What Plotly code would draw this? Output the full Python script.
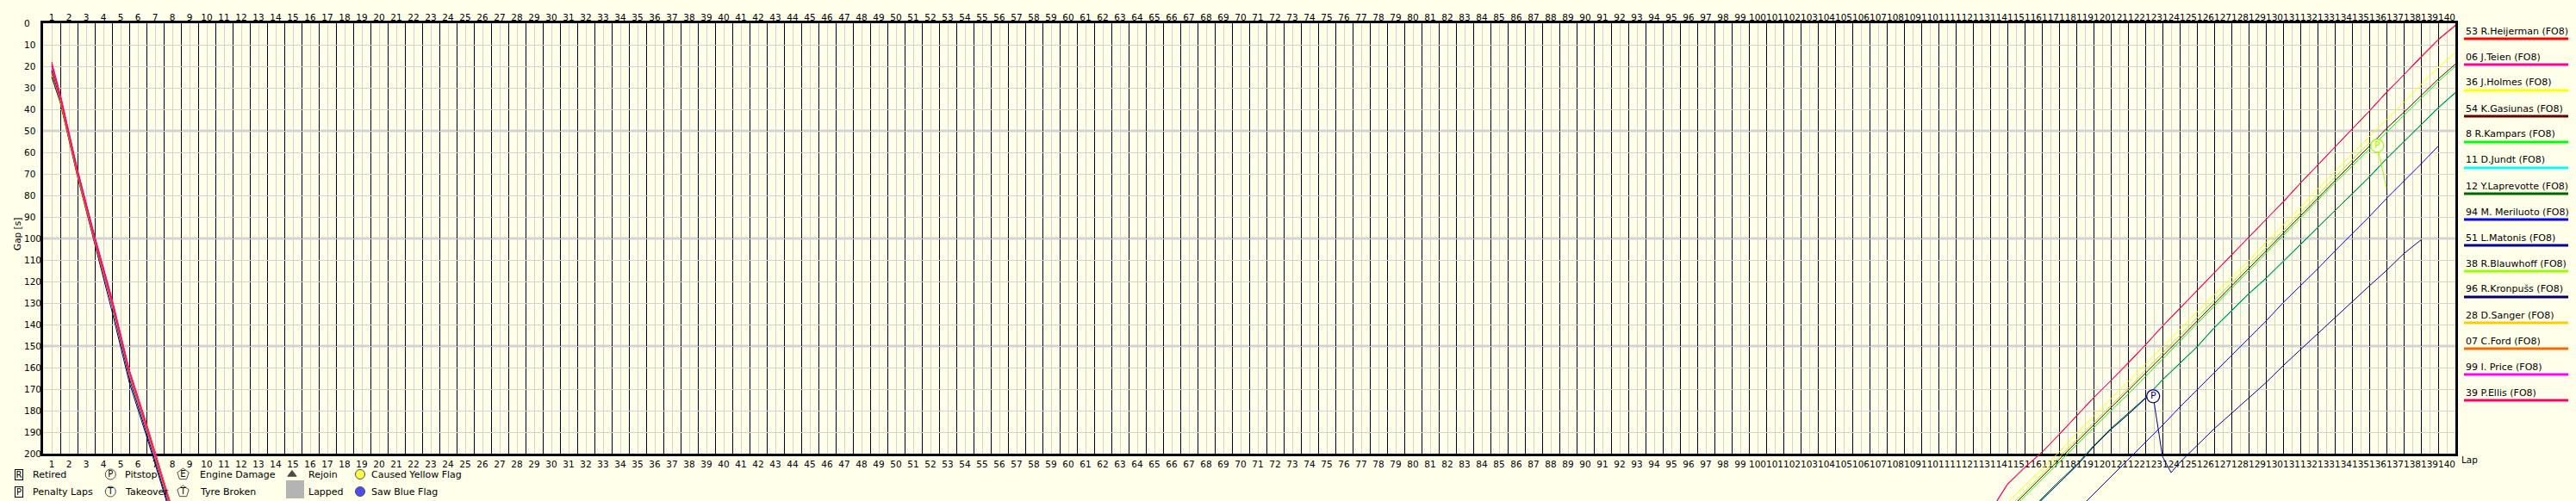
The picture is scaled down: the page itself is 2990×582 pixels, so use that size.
import plotly.graph_objects as go

W, H = 2990, 582
BG = '#FFFFEA'
FONT = 'DejaVu Sans'

# ---------------- data ----------------
LAPS = list(range(1, 141))
GAP_TICKS = list(range(0, 201, 10))

DRIVERS = ['53 R.Heijerman (FO8)', '06 J.Teien (FO8)', '36 J.Holmes (FO8)',
           '54 K.Gasiunas (FO8)', '8 R.Kampars (FO8)', '11 D.Jundt (FO8)',
           '12 Y.Laprevotte (FO8)', '94 M. Meriluoto (FO8)', '51 L.Matonis (FO8)',
           '38 R.Blauwhoff (FO8)', '96 R.Kronpušs (FO8)', '28 D.Sanger (FO8)',
           '07 C.Ford (FO8)', '99 I. Price (FO8)', '39 P.Ellis (FO8)']
COLORS = ['#FF0000', '#FF0099', '#FFFF00', '#660000', '#00FF00', '#00FFFF',
          '#006600', '#0000FF', '#000099', '#99FF00', '#000066', '#FFCC00',
          '#FF6600', '#FF00FF', '#FF0066']

# opening laps (lap index, gap in s)
LEFT_LAPS = [0.5, 1, 2, 3, 4, 5, 6, 7, 8]
left_53 = [18.0, 33.0, 68.0, 99.0, 128.0, 161.0, 186.0, 212.0, 239.0]
left_06 = [19.0, 33.5, 68.5, 99.5, 128.5, 161.5, 186.5, 212.5, 239.5]
left_36 = [21.0, 35.0, 69.5, 100.5, 129.5, 162.0, 187.5, 213.5, 240.0]
left_54 = [22.0, 35.5, 70.0, 101.0, 130.0, 162.5, 188.0, 214.0, 241.0]
left_08 = [23.0, 36.0, 70.0, 101.0, 130.5, 163.0, 188.5, 214.5, 241.0]
left_11 = [24.0, 36.5, 70.5, 101.5, 131.0, 163.5, 189.0, 215.0, 242.0]
left_12 = [23.5, 36.0, 70.0, 101.0, 130.5, 163.0, 188.5, 214.5, 241.5]
left_94 = [21.5, 35.0, 69.0, 100.0, 129.5, 162.5, 188.0, 214.0, 241.0]
left_51 = [22.5, 35.5, 70.0, 101.5, 131.5, 165.0, 190.5, 216.0, 243.0]
left_38 = [24.5, 37.0, 71.0, 101.0, 130.0, 162.0, 187.0, 213.0, 240.0]
left_96 = [25.0, 37.0, 71.5, 103.0, 134.0, 167.0, 192.0, 218.0, 245.0]
left_28 = [20.5, 34.5, 69.5, 100.5, 129.5, 162.5, 188.0, 214.0, 241.0]
left_07 = [23.0, 36.5, 71.0, 102.0, 131.0, 163.5, 189.0, 215.0, 242.0]
left_99 = [19.5, 34.0, 69.0, 100.0, 129.0, 161.5, 187.0, 213.0, 240.0]
left_39 = [20.0, 34.0, 69.0, 100.5, 129.5, 162.0, 187.5, 213.5, 240.5]

# closing laps
end_laps_53 = list(range(113, 141))
end_53 = [227.3, 214.6, 206.8, 199.6, 191.4, 182.8, 174.3, 166.3, 158.3, 149.8, 141.0, 132.8,
          124.6, 116.2, 108.3, 99.7, 91.4, 83.3, 74.5, 66.2, 58.0, 49.6, 41.0, 32.3, 24.2,
          15.8, 7.8, 1.2]
end_laps_06 = list(range(113, 141))
end_06 = [227.0, 214.3, 206.5, 199.5, 191.2, 182.5, 174.1, 166.2, 158.0, 149.6, 140.8, 132.6,
          124.3, 116.0, 108.0, 99.5, 91.2, 83.0, 74.3, 66.0, 57.8, 49.3, 40.8, 32.0, 24.0,
          15.5, 7.5, 0.8]
end_laps_36 = list(range(113, 141))
end_36 = [231.0, 223.0, 215.0, 207.5, 199.5, 190.8, 182.8, 174.8, 166.7, 158.6, 150.7, 142.6,
          134.3, 126.5, 118.6, 110.5, 102.0, 94.0, 85.8, 77.0, 69.3, 60.8, 53.0, 45.0, 37.0,
          28.6, 20.8, 13.6]
end_laps_54 = list(range(114, 141))
end_54 = [227.0, 219.0, 211.0, 203.0, 195.0, 187.0, 179.0, 171.2, 163.2, 155.0, 146.8, 138.6,
          130.4, 122.4, 114.2, 106.0, 97.8, 89.6, 81.3, 73.2, 65.2, 57.3, 49.0, 41.5, 33.8,
          26.0, 19.0]
end_laps_08 = list(range(114, 141))
end_08 = [228.0, 220.0, 212.0, 204.0, 196.0, 188.2, 180.3, 172.5, 164.5, 156.3, 148.0, 139.8,
          131.6, 123.5, 115.3, 107.2, 99.0, 90.8, 82.6, 74.3, 66.5, 58.6, 50.5, 43.0, 35.0,
          27.2, 20.0]
end_laps_11 = list(range(115, 141))
end_11 = [229.5, 221.5, 213.5, 205.8, 197.0, 189.0, 182.0, 174.6, 166.2, 158.4, 150.8, 142.0,
          134.0, 126.2, 119.0, 111.2, 103.3, 95.3, 87.3, 79.6, 71.8, 63.3, 55.3, 47.5, 39.6,
          32.6]
end_laps_12 = list(range(115, 141))
end_12 = [229.0, 221.0, 213.0, 205.5, 196.5, 188.5, 181.5, 174.3, 165.8, 158.0, 150.5, 141.6,
          133.6, 125.8, 118.6, 110.8, 103.0, 95.0, 87.0, 79.3, 71.5, 63.0, 55.0, 47.2, 39.3,
          32.2]
end_laps_94 = list(range(118, 140))
end_94 = [227.0, 219.0, 211.2, 203.0, 195.0, 187.0, 178.6, 170.6, 162.7, 154.3, 146.5, 138.6,
          130.0, 122.2, 114.3, 106.0, 98.0, 90.0, 81.5, 73.6, 65.5, 57.2]
end_laps_51 = [115, 116, 117, 118, 119, 120, 121, 122, 122.46, 123, 123.5, 124] + list(range(125, 139))
end_51 = [229.5, 221.5, 213.8, 206.0, 197.0, 189.0, 182.0, 174.6, 173.5, 201.5, 209.0, 204.3,
          196.5, 188.6, 181.5, 174.3, 167.2, 159.3, 151.8, 144.6, 137.2, 129.3, 122.2, 115.0,
          107.2, 100.8]
end_laps_38 = list(range(114, 136)) + [135.46, 136]
end_38 = [226.0, 218.0, 210.0, 202.0, 193.8, 185.8, 177.8, 169.8, 161.5, 153.5, 145.3, 137.0,
          129.0, 121.0, 112.8, 104.6, 96.5, 88.3, 79.8, 71.8, 63.6, 55.8, 57.0, 76.5]

LEFT = [left_53, left_06, left_36, left_54, left_08, left_11, left_12, left_94,
        left_51, left_38, left_96, left_28, left_07, left_99, left_39]
END = {0: (end_laps_53, end_53), 1: (end_laps_06, end_06), 2: (end_laps_36, end_36),
       3: (end_laps_54, end_54), 4: (end_laps_08, end_08), 5: (end_laps_11, end_11),
       6: (end_laps_12, end_12), 7: (end_laps_94, end_94), 8: (end_laps_51, end_51),
       9: (end_laps_38, end_38)}

# pit stops
PIT_DRIVER = [8, 9]
PIT_LAP = [122.46, 135.46]
PIT_GAP = [173.5, 57.0]

# ---------------- figure ----------------
def px(x):
    return x / W


def py(y):
    return 1 - y / H


fig = go.Figure()

# data traces on a full-canvas axis pair (lines run past the frame)
for i, name in enumerate(DRIVERS):
    fig.add_trace(go.Scatter(x=LEFT_LAPS, y=LEFT[i], mode='lines', xaxis='x3', yaxis='y3',
                             line=dict(color=COLORS[i], width=1), showlegend=False,
                             name=name, hoverinfo='skip'))
for i, name in enumerate(DRIVERS):
    if i in END:
        lx, gy = END[i]
        fig.add_trace(go.Scatter(x=lx, y=gy, mode='lines', xaxis='x3', yaxis='y3',
                                 line=dict(color=COLORS[i], width=1), showlegend=False,
                                 name=name, hoverinfo='skip'))

fig.add_trace(go.Scatter(
    x=PIT_LAP, y=PIT_GAP, mode='markers+text', xaxis='x3', yaxis='y3', text=['P'] * len(PIT_LAP),
    textposition='middle center',
    textfont=dict(family=FONT, size=11, color=[COLORS[d] for d in PIT_DRIVER]),
    marker=dict(symbol='circle', size=15, color=BG,
                line=dict(color=[COLORS[d] for d in PIT_DRIVER], width=1.3)),
    showlegend=False, hoverinfo='skip'))

# bottom legend glyphs (pixel axis)
fig.add_trace(go.Scatter(
    x=[128.3, 128.3, 212.5, 212.5], y=[551, 571, 551, 571], mode='markers+text',
    xaxis='x4', yaxis='y4', text=['P', 'T', 'E', 'T'], textposition='middle center',
    textfont=dict(family=FONT, size=10, color='black'),
    marker=dict(symbol=['circle', 'circle', 'pentagon', 'pentagon'], size=[12, 12, 14, 14],
                color=BG, line=dict(color='black', width=1)),
    showlegend=False, hoverinfo='skip'))
fig.add_trace(go.Scatter(
    x=[339, 418, 418], y=[551, 551, 571], mode='markers', xaxis='x4', yaxis='y4',
    marker=dict(symbol=['triangle-up', 'circle', 'circle'], size=[9, 11, 11],
                color=['black', '#FFFF00', '#0000FF'], line=dict(color='black', width=1)),
    showlegend=False, hoverinfo='skip'))

shapes = []
# heavier horizontal grid every 50 s
for g in (50, 100, 150):
    shapes.append(dict(type='line', xref='x', yref='y', x0=0.5, x1=140.5, y0=g, y1=g,
                       line=dict(color='#D3D3D3', width=3), layer='below'))
# black lap boundaries (nudged half a pixel so they render crisp)
for b in range(1, 140):
    xb = b + 0.5 + 0.025
    shapes.append(dict(type='line', xref='x', yref='y', x0=xb, x1=xb, y0=0, y1=200,
                       line=dict(color='black', width=1), layer='below'))
# right legend bars
for k, c in enumerate(COLORS):
    yy = 45 + 30 * k
    shapes.append(dict(type='line', xref='paper', yref='paper', x0=px(2860), x1=px(2981),
                       y0=py(yy), y1=py(yy), line=dict(color=c, width=3)))
# lapped swatch
shapes.append(dict(type='rect', xref='paper', yref='paper', x0=px(332), x1=px(353),
                   y0=py(579), y1=py(558), fillcolor='#B4B4B4', line=dict(width=0)))

ann = []
for v in GAP_TICKS:
    ann.append(dict(x=px(26), xref='paper', y=v, yref='y', text=str(v), showarrow=False,
                    xanchor='left', yanchor='middle', font=dict(family=FONT, size=10.5, color='black')))
ann.append(dict(x=px(12), xref='paper', y=py(272), yref='paper', text='Gap [s]', showarrow=False,
                textangle=-90, font=dict(family=FONT, size=10.5, color='black')))
ann.append(dict(x=px(2855), xref='paper', y=py(534), yref='paper', text='Lap', showarrow=False,
                xanchor='left', yanchor='middle', font=dict(family=FONT, size=10.5, color='black')))
for k, name in enumerate(DRIVERS):
    ann.append(dict(x=px(2860), xref='paper', y=py(36 + 30 * k), yref='paper', text=name,
                    showarrow=False, xanchor='left', yanchor='middle',
                    font=dict(family=FONT, size=11, color='black')))
for txt, yy in (('R', 551), ('P', 571)):
    ann.append(dict(x=px(22), xref='paper', y=py(yy), yref='paper', text=txt, showarrow=False,
                    xanchor='center', yanchor='middle', width=8, height=11, borderwidth=1,
                    bordercolor='black', borderpad=0, font=dict(family=FONT, size=10, color='black')))
for txt, xx, yy in (('Retired', 36, 551), ('Penalty Laps', 36, 571), ('Pitstop', 143, 551),
                    ('Takeover', 143, 571), ('Engine Damage', 230, 551), ('Tyre Broken', 230, 571),
                    ('Rejoin', 356, 551), ('Lapped', 356, 571), ('Caused Yellow Flag', 429, 551),
                    ('Saw Blue Flag', 429, 571)):
    ann.append(dict(x=px(xx), xref='paper', y=py(yy), yref='paper', text=txt, showarrow=False,
                    xanchor='left', yanchor='middle', font=dict(family=FONT, size=11, color='black')))

tickfont = dict(family=FONT, size=10.5, color='black')
fig.update_layout(
    width=W, height=H, margin=dict(l=0, r=0, t=0, b=0, autoexpand=False),
    paper_bgcolor=BG, plot_bgcolor='rgba(0,0,0,0)', showlegend=False,
    xaxis=dict(domain=[px(50), px(2850)], range=[0.5, 140.5], tickmode='linear', tick0=1, dtick=1,
               tickangle=0, ticks='', showgrid=True, gridcolor='#D3D3D3', gridwidth=1,
               zeroline=False, showline=True, linecolor='black', linewidth=3, mirror=True,
               tickfont=tickfont, anchor='y', automargin=False),
    xaxis2=dict(overlaying='x', matches='x', side='top', anchor='y', tickmode='linear', tick0=1,
                dtick=1, tickangle=0, ticks='', showgrid=False, zeroline=False, showline=False,
                tickfont=tickfont, automargin=False),
    yaxis=dict(domain=[py(527), py(27)], range=[200, 0], tickmode='linear', tick0=0, dtick=10,
               showticklabels=False, ticks='', showgrid=True, gridcolor='#D3D3D3', gridwidth=1,
               zeroline=False, showline=True, linecolor='black', linewidth=3, mirror=True,
               anchor='x', automargin=False),
    xaxis3=dict(domain=[0, 1], range=[-2.5, 147], visible=False, anchor='y3'),
    yaxis3=dict(domain=[0, 1], range=[222.2, -10.8], visible=False, anchor='x3'),
    xaxis4=dict(domain=[0, 1], range=[0, W], visible=False, anchor='y4'),
    yaxis4=dict(domain=[0, 1], range=[H, 0], visible=False, anchor='x4'),
    shapes=shapes, annotations=ann,
)
# invisible trace so the top axis is drawn
fig.add_trace(go.Scatter(x=[1], y=[0], xaxis='x2', yaxis='y', mode='markers',
                         marker=dict(opacity=0), showlegend=False, hoverinfo='skip'))

fig.write_html('out.html', config={'displayModeBar': False, 'staticPlot': True},
               post_script="document.body.style.margin='0';document.body.style.overflow='hidden';")
